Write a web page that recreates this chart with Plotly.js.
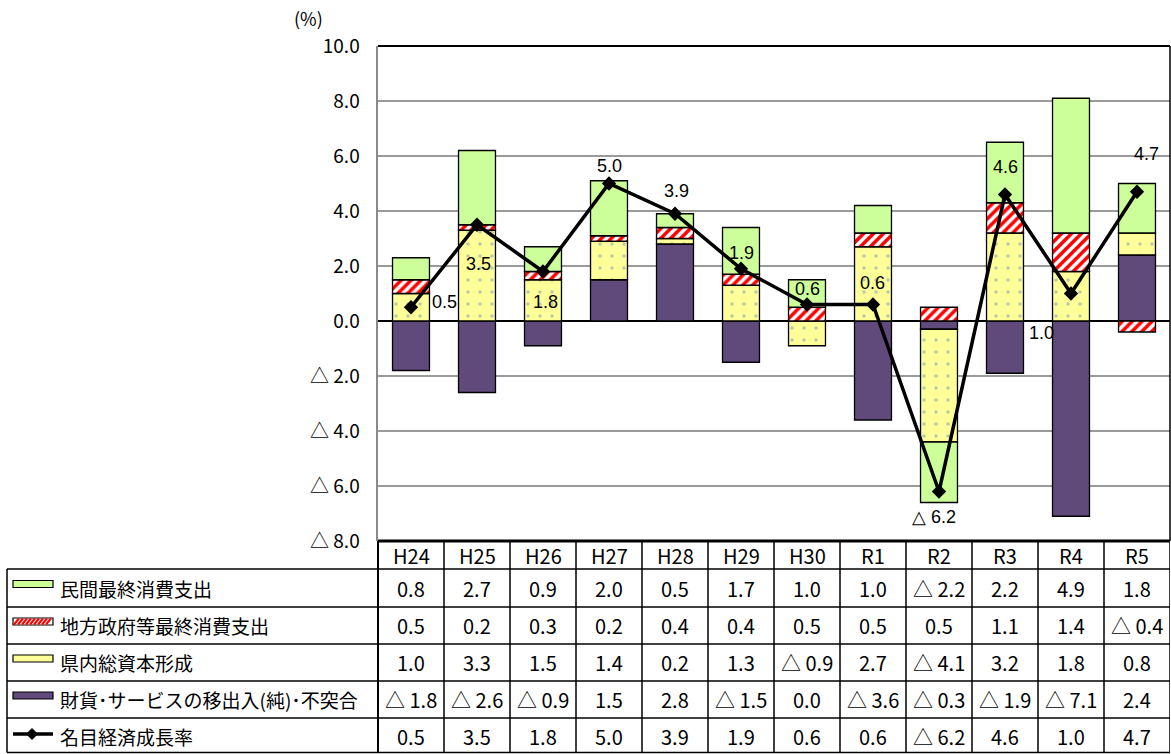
<!DOCTYPE html>
<html>
<head>
<meta charset="utf-8">
<script src="https://cdn.plot.ly/plotly-3.0.1.min.js"></script>
<style>html,body{margin:0;padding:0;background:#fff;}#chart{width:1171px;height:754px;}</style>
</head>
<body>
<div id="chart"></div>
<script>
// ---- data ----
const categories = ["H24","H25","H26","H27","H28","H29","H30","R1","R2","R3","R4","R5"];
const seriesNames = ["民間最終消費支出","地方政府等最終消費支出","県内総資本形成","財貨･サービスの移出入(純)･不突合","名目経済成長率"];
const privateCons = [0.8, 2.7, 0.9, 2.0, 0.5, 1.7, 1.0, 1.0, -2.2, 2.2, 4.9, 1.8];
const govCons     = [0.5, 0.2, 0.3, 0.2, 0.4, 0.4, 0.5, 0.5, 0.5, 1.1, 1.4, -0.4];
const capital     = [1.0, 3.3, 1.5, 1.4, 0.2, 1.3, -0.9, 2.7, -4.1, 3.2, 1.8, 0.8];
const netExports  = [-1.8, -2.6, -0.9, 1.5, 2.8, -1.5, 0.0, -3.6, -0.3, -1.9, -7.1, 2.4];
const growth      = [0.5, 3.5, 1.8, 5.0, 3.9, 1.9, 0.6, 0.6, -6.2, 4.6, 1.0, 4.7];
const yTickVals   = [-8, -6, -4, -2, 0, 2, 4, 6, 8, 10];
const yTickText   = ["△ 8.0","△ 6.0","△ 4.0","△ 2.0","0.0","2.0","4.0","6.0","8.0","10.0"];

// label placement for the growth line (pixel shifts from each marker; layout only)
const growthLabelShift = [[33,5],[1,-39],[2,-30],[0,18],[1,23],[0,16],[0,16],[-1,22],[-5,-25],[0,28],[-30,-39],[9,38]];

// ---- layout helpers (pixel -> paper) ----
const W = 1171, H = 754, L = 378, R = 1, T = 46, B = 213;
const PW = W - L - R, PH = H - T - B;
const px = v => (v - L) / PW;
const py = v => (H - B - v) / PH;
const fmt = v => v < 0 ? "△ " + Math.abs(v).toFixed(1) : v.toFixed(1);

const C_GREEN = "#CCFF99", C_RED = "#FF0000", C_YEL = "#FFFF99", C_PURP = "#604A7B";
const FONT_JP = "Noto Sans CJK JP, sans-serif";
const FONT_NUM = "Liberation Sans Narrow, Arial Narrow, Noto Sans CJK JP, sans-serif";

const barCommon = {type: "bar", x: categories, width: 0.56, hoverinfo: "skip", showlegend: false};
const traces = [
  Object.assign({}, barCommon, {name: seriesNames[3], y: netExports,
    marker: {color: C_PURP, line: {color: "#000", width: 1.3}}}),
  Object.assign({}, barCommon, {name: seriesNames[2], y: capital,
    marker: {color: C_YEL, line: {color: "#000", width: 1.3},
      pattern: {shape: ".", fgcolor: "#bccaa4", bgcolor: C_YEL, size: 12, solidity: 0.07}}}),
  Object.assign({}, barCommon, {name: seriesNames[1], y: govCons,
    marker: {color: "#fff", line: {color: "#000", width: 1.3},
      pattern: {shape: "/", fgcolor: C_RED, bgcolor: "#fff", size: 7, solidity: 0.5}}}),
  Object.assign({}, barCommon, {name: seriesNames[0], y: privateCons,
    marker: {color: C_GREEN, line: {color: "#000", width: 1.3}}}),
  {type: "scatter", mode: "lines+markers", name: seriesNames[4], x: categories, y: growth,
    line: {color: "#000", width: 3.5}, marker: {symbol: "diamond", size: 11, color: "#000"},
    hoverinfo: "skip", showlegend: false, cliponaxis: false}
];

const shapes = [];
const annotations = [];
const line = (x0, y0, x1, y1, color, width, xref) => shapes.push({type: "line", xref: xref || "paper", yref: "paper",
  x0: x0, y0: y0, x1: x1, y1: y1, line: {color: color, width: width}});

// growth labels
growth.forEach((v, i) => annotations.push({xref: "x", yref: "y", x: categories[i], y: v, text: fmt(v),
  showarrow: false, xshift: growthLabelShift[i][0], yshift: growthLabelShift[i][1],
  font: {family: "Liberation Sans, Arial, sans-serif", size: 18, color: "#000"}, xanchor: "center", yanchor: "middle"}));

// plot frame
line(0, 1, 1, 1, "#000", 2);
line(1, 0, 1, 1, "#000", 1.5);

// table geometry
const rowLines = [569, 607, 644, 681, 718, 752.5];
const rowCenters = [555.5, 588, 625.5, 662.5, 699.5, 736];
const tableLeft = 7;
line(0, py(541), 1, py(541), "#000", 3);
rowLines.forEach(r => line(px(tableLeft), py(r), 1, py(r), "#000", 1.5));
line(px(tableLeft), py(569), px(tableLeft), py(752.5), "#000", 1.5);
line(0, py(541), 0, py(752.5), "#000", 2);
for (let i = 1; i <= categories.length; i++) {
  line(i - 0.5, py(541), i - 0.5, py(752.5), "#000", 1.5, "x");
}

// header labels
const tableFont = {family: FONT_NUM, size: 20, color: "#000"};
categories.forEach((c, i) => annotations.push({xref: "x", yref: "paper", x: c, y: py(rowCenters[0]),
  text: c, showarrow: false, font: tableFont, xanchor: "center", yanchor: "middle"}));
// values
const rows = [privateCons, govCons, capital, netExports, growth];
rows.forEach((arr, r) => arr.forEach((v, i) => annotations.push({xref: "x", yref: "paper", x: categories[i],
  y: py(rowCenters[r + 1]), text: fmt(v), showarrow: false, font: tableFont, xanchor: "center", yanchor: "middle"})));
// legend labels
seriesNames.forEach((n, r) => annotations.push({xref: "paper", yref: "paper", x: px(58), y: py(rowCenters[r + 1]),
  text: n, showarrow: false, font: {family: FONT_JP, size: 19, color: "#000"}, xanchor: "left", yanchor: "middle"}));

// legend symbols
const symX0 = 13, symX1 = 53;
const symRect = (r, fill) => {
  const c = rowCenters[r + 1] - 4;
  shapes.push({type: "rect", xref: "paper", yref: "paper", x0: px(symX0), x1: px(symX1), y0: py(c + 3.5), y1: py(c - 3.5),
    fillcolor: fill, line: {color: "#000", width: 1.2}});
  return c;
};
symRect(0, C_GREEN);
{
  const c = symRect(1, "#fff");
  for (let x = symX0 + 1; x + 5 <= symX1 - 0.5; x += 4) {
    line(px(x), py(c + 3), px(x + 5), py(c - 3), C_RED, 2);
  }
}
symRect(2, C_YEL);
symRect(3, C_PURP);
{
  const c = rowCenters[5] - 2;
  line(px(symX0), py(c), px(symX1), py(c), "#000", 3.5);
  const dx = 32, s = 5.5;
  shapes.push({type: "path", xref: "paper", yref: "paper",
    path: `M ${px(dx - s)} ${py(c)} L ${px(dx)} ${py(c - s)} L ${px(dx + s)} ${py(c)} L ${px(dx)} ${py(c + s)} Z`,
    fillcolor: "#000", line: {color: "#000", width: 1}});
}

// unit label
annotations.push({xref: "paper", yref: "paper", x: px(308), y: py(18), text: "(%)", showarrow: false,
  font: {family: FONT_JP, size: 18, color: "#000"}, xanchor: "center", yanchor: "middle"});

const layout = {
  width: W, height: H,
  margin: {l: L, r: R, t: T, b: B, pad: 0},
  paper_bgcolor: "#fff", plot_bgcolor: "#fff",
  barmode: "relative", bargap: 0.44,
  showlegend: false,
  xaxis: {type: "category", range: [-0.5, 11.5], showticklabels: false, ticks: "", showgrid: false,
    zeroline: false, showline: false, fixedrange: true},
  yaxis: {range: [-8, 10], tickvals: yTickVals, ticktext: yTickText, ticks: "", ticklabelstandoff: 12,
    tickfont: {family: FONT_JP, size: 19, color: "#000"},
    showgrid: true, gridcolor: "#9a9a9a", gridwidth: 1.5,
    zeroline: true, zerolinecolor: "#000", zerolinewidth: 2.5,
    showline: true, linecolor: "#8a8a8a", linewidth: 2.5, fixedrange: true},
  shapes: shapes,
  annotations: annotations
};

Plotly.newPlot("chart", traces, layout, {displayModeBar: false, staticPlot: true});
</script>
</body>
</html>
